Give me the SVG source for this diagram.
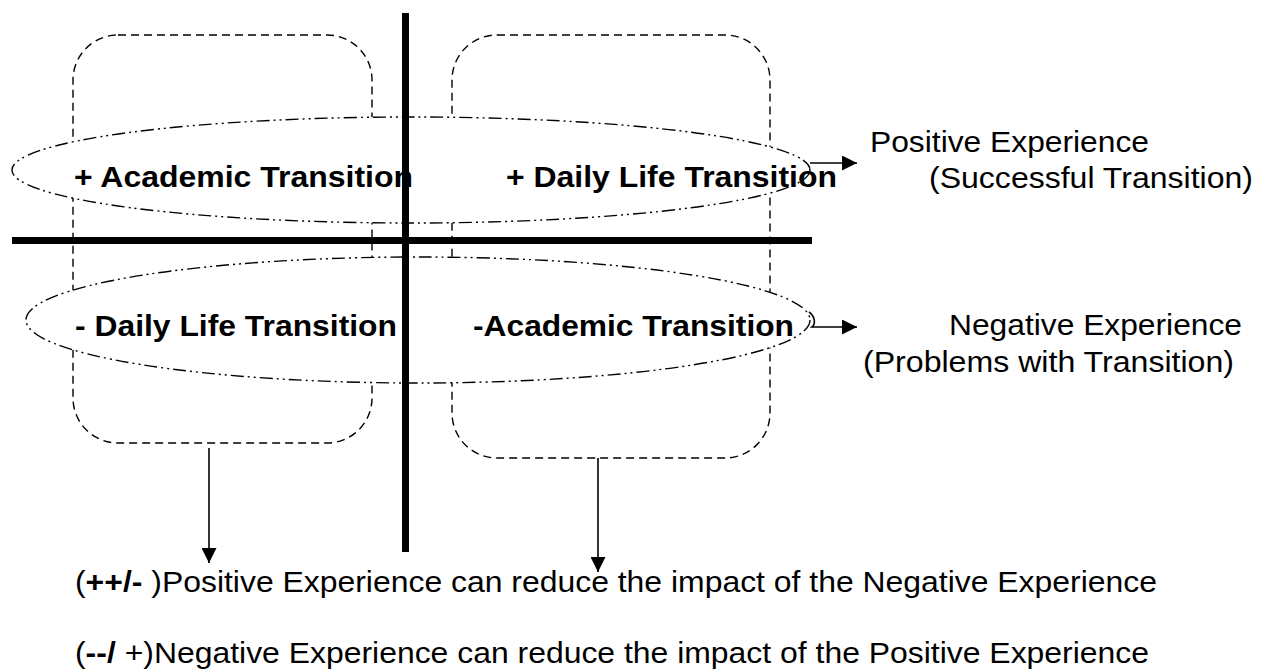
<svg xmlns="http://www.w3.org/2000/svg" width="1262" height="672" viewBox="0 0 1262 672">
  <style>
    .box { fill: none; stroke: #000; stroke-width: 1.4; stroke-dasharray: 8 5; }
    .oval { fill: #fff; stroke: #000; stroke-width: 1.4; stroke-dasharray: 13 4 2 4 2 4; }
    .axis { stroke: #000; stroke-width: 7; }
    .conn { fill: none; stroke: #000; stroke-width: 1.6; }
    .bold { font-family: "Liberation Sans", Arial, sans-serif; font-weight: bold; font-size: 29.5px; fill: #000; }
    .reg { font-family: "Liberation Sans", Arial, sans-serif; font-size: 30px; fill: #000; }
  </style>
  <defs>
    <marker id="arrow" markerUnits="userSpaceOnUse" markerWidth="16" markerHeight="15" refX="15" refY="7.5" orient="auto">
      <path d="M0,0 L15,7.5 L0,15 z" fill="#000"/>
    </marker>
  </defs>
  <rect width="1262" height="672" fill="#fff"/>

  <g id="box-left"><rect class="box" x="73" y="35" width="299" height="408" rx="45" ry="45"/></g>
  <g id="box-right"><rect class="box" x="452" y="35" width="318" height="423" rx="45" ry="45"/></g>

  <g id="oval-positive">
    <ellipse class="oval" cx="411" cy="170" rx="399" ry="53"/>
    <text class="bold" x="74" y="187" textLength="339" lengthAdjust="spacingAndGlyphs">+ Academic Transition</text>
    <text class="bold" x="506" y="187" textLength="331" lengthAdjust="spacingAndGlyphs">+ Daily Life Transition</text>
  </g>
  <g id="oval-negative">
    <ellipse class="oval" cx="418" cy="320" rx="392" ry="63"/>
    <text class="bold" x="75" y="336" textLength="322" lengthAdjust="spacingAndGlyphs">- Daily Life Transition</text>
    <text class="bold" x="473" y="336" textLength="321" lengthAdjust="spacingAndGlyphs">-Academic Transition</text>
  </g>

  <g id="axes">
    <line class="axis" x1="405.5" y1="13" x2="405.5" y2="552"/>
    <line class="axis" x1="12" y1="240.5" x2="812" y2="240.5"/>
  </g>

  <g id="label-positive">
    <text class="reg" x="870" y="152" textLength="279" lengthAdjust="spacingAndGlyphs">Positive Experience</text>
    <text class="reg" x="929" y="188" textLength="324" lengthAdjust="spacingAndGlyphs">(Successful Transition)</text>
  </g>
  <g id="label-negative">
    <text class="reg" x="949" y="335" textLength="293" lengthAdjust="spacingAndGlyphs">Negative Experience</text>
    <text class="reg" x="863" y="372" textLength="371" lengthAdjust="spacingAndGlyphs">(Problems with Transition)</text>
  </g>

  <g id="statement-1">
    <text class="reg" x="75" y="592" textLength="1082" lengthAdjust="spacingAndGlyphs">(<tspan font-weight="bold">++/-</tspan> )Positive Experience can reduce the impact of the Negative Experience</text>
  </g>
  <g id="statement-2">
    <text class="reg" x="75" y="663" textLength="1074" lengthAdjust="spacingAndGlyphs">(<tspan font-weight="bold">--/</tspan> +)Negative Experience can reduce the impact of the Positive Experience</text>
  </g>

  <g id="connectors">
    <line class="conn" x1="810" y1="163" x2="857" y2="163" marker-end="url(#arrow)"/>
    <path class="conn" d="M809,312 C815,316 816,324 812,327 L857,327" marker-end="url(#arrow)"/>
    <line class="conn" x1="209" y1="448" x2="209" y2="563" marker-end="url(#arrow)"/>
    <line class="conn" x1="598" y1="458" x2="598" y2="572" marker-end="url(#arrow)"/>
  </g>
</svg>
